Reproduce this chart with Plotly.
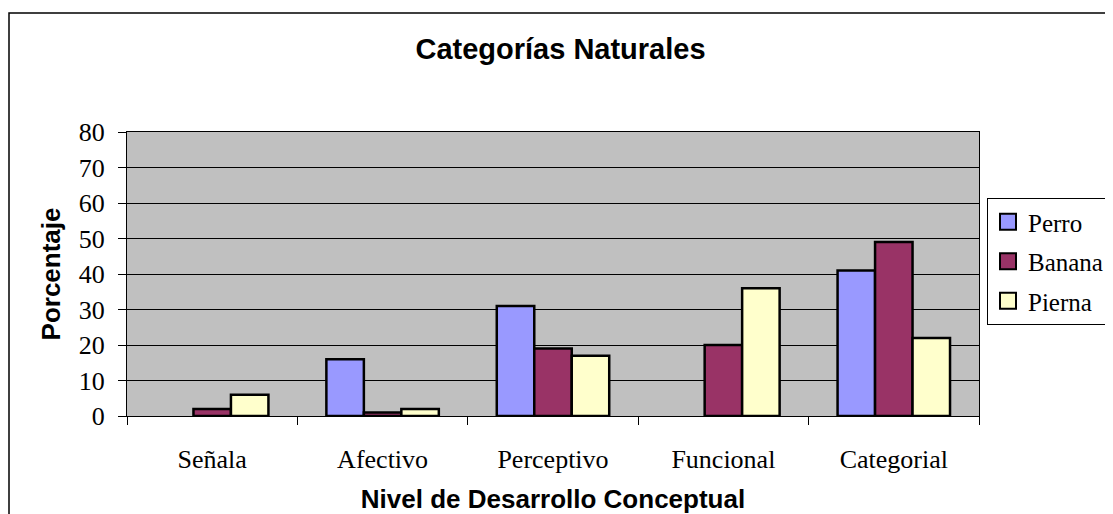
import plotly.graph_objects as go

categorias = ["Señala", "Afectivo", "Perceptivo", "Funcional", "Categorial"]
perro = [0, 16, 31, 0, 41]
banana = [2, 1, 19, 20, 49]
pierna = [6, 2, 17, 36, 22]

series = [
    ("Perro", perro, "#9999FF"),
    ("Banana", banana, "#993366"),
    ("Pierna", pierna, "#FFFFCC"),
]

# page has an 8px body margin, so figure pixels = page pixels - 8
OFF = 8
FW, FH = 1113 - OFF, 514 - OFF
# plot area in page px: x 127..979, y 132..416
L, T = 127 - OFF, 132 - OFF
W, H = 979 - 127, 416 - 132
R, B = FW - L - W, FH - T - H


def px_x(p):
    return (p - OFF - L) / W


def px_y(p):
    return (T + H - (p - OFF)) / H


fig = go.Figure()
for name, vals, color in series:
    # zero values show no bar at all in the original
    fig.add_trace(go.Bar(
        x=categorias, y=[v if v else None for v in vals], name=name,
        showlegend=False,
        marker=dict(color=color, line=dict(color="black", width=2.5)),
    ))
    # legend entry with a bigger square swatch
    fig.add_trace(go.Scatter(
        x=[None], y=[None], mode="markers", name=name, legendgroup=name,
        marker=dict(symbol="square", size=16, color=color,
                    line=dict(color="black", width=2)),
    ))

serif = "Liberation Serif, Times New Roman, serif"
sans = "Liberation Sans, Arial, sans-serif"

fig.update_layout(
    width=FW, height=FH,
    margin=dict(l=L, r=R, t=T, b=B, autoexpand=False),
    paper_bgcolor="white",
    plot_bgcolor="#C0C0C0",
    barmode="group",
    bargap=0.34, bargroupgap=0,
    title=dict(
        text="<b>Categorías Naturales</b>",
        font=dict(family=sans, size=29, color="black"),
        x=0.5, xanchor="center", y=1 - (49 - OFF) / FH, yanchor="middle",
    ),
    xaxis=dict(
        title=dict(text="<b>Nivel de Desarrollo Conceptual</b>",
                   font=dict(family=sans, size=26, color="black"),
                   standoff=16),
        tickfont=dict(family=serif, size=26, color="black"),
        ticks="outside", tickson="boundaries", ticklen=8, tickcolor="black",
        ticklabelstandoff=20,
        showline=True, linecolor="black", linewidth=1, mirror=True,
        showgrid=False,
    ),
    yaxis=dict(
        title=dict(text="<b>Porcentaje</b>",
                   font=dict(family=sans, size=26, color="black"),
                   standoff=10),
        tickfont=dict(family=serif, size=26, color="black"),
        range=[0, 80], dtick=10,
        ticks="outside", ticklen=8, tickcolor="black",
        ticklabelstandoff=8,
        showline=True, linecolor="black", linewidth=1, mirror=True,
        showgrid=True, gridcolor="black", gridwidth=1,
        zeroline=False,
    ),
    legend=dict(
        x=px_x(987), y=px_y(198), xanchor="left", yanchor="top",
        bordercolor="black", borderwidth=1, bgcolor="white",
        font=dict(family=serif, size=25, color="black"),
        tracegroupgap=4, itemwidth=30,
    ),
    showlegend=True,
    shapes=[dict(
        type="rect", xref="paper", yref="paper",
        x0=px_x(9), x1=px_x(1125), y0=px_y(530), y1=px_y(13),
        line=dict(color="black", width=1.5), fillcolor="rgba(0,0,0,0)",
        layer="below",
    )],
)

fig.write_html("out.html")
